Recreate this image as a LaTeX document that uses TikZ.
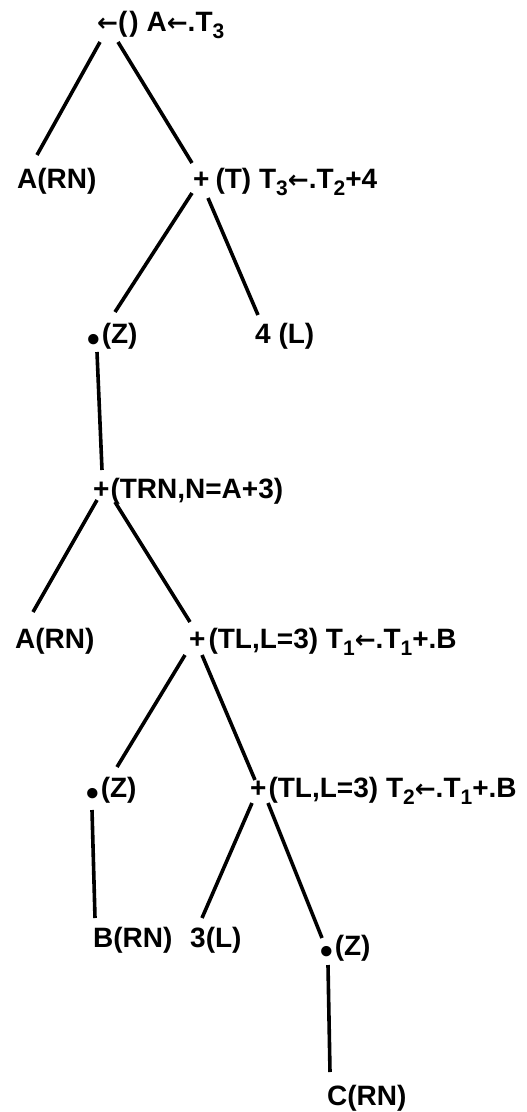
\documentclass[tikz,border=0pt]{standalone}
\usepackage{fontspec}
\setmainfont{Liberation Sans}
\newfontfamily\arrowfont{DejaVu Sans}
% lowered index digit, as in T_3
\newcommand\sbs[1]{\raisebox{-0.28em}{\fontsize{21}{21}\selectfont #1}}
% heavy round dot used as the indirection operator
\newcommand\bigdot{\raisebox{-8.5pt}{\fontsize{36}{36}\selectfont •}\kern2pt}
% assignment arrow
\newcommand\larr{{\arrowfont\bfseries\fontsize{25}{25}\selectfont ←}}
\begin{document}
\begin{tikzpicture}[x=1pt,y=-1pt,
  lbl/.style={inner sep=0pt, anchor=base west, font=\bfseries\fontsize{28}{28}\selectfont},
  edge/.style={line width=3.6pt}]
\useasboundingbox (0,0) rectangle (527,1112);

% tree labels
\node[lbl] (root) at (97,31)   {\larr(\kern2pt) A\larr.T\sbs{3}};
\node[lbl] (a1)   at (17,188)  {A(RN)};
\node[lbl] (p1)   at (193,188) {+\kern6pt(T) T\sbs{3}\larr.T\sbs{2}+4};
\node[lbl] (z1)   at (87,343)  {\bigdot(Z)};
\node[lbl] (l4)   at (255,343) {4 (L)};
\node[lbl] (p2)   at (93,498)  {+\kern1pt(TRN,N=A+3)};
\node[lbl] (a2)   at (15,648)  {A(RN)};
\node[lbl] (p3)   at (189,648) {+\kern3pt(TL,L=3) T\sbs{1}\larr.T\sbs{1}+.B};
\node[lbl] (z2)   at (86,797)  {\bigdot(Z)};
\node[lbl] (p4)   at (250,797) {+\kern2pt(TL,L=3) T\sbs{2}\larr.T\sbs{1}+.B};
\node[lbl] (b)    at (93,947)  {B(RN)};
\node[lbl] (l3)   at (190,947) {3(L)};
\node[lbl] (z3)   at (320,955) {\bigdot(Z)};
\node[lbl] (c)    at (327,1105){C(RN)};

% branches
\draw[edge] ([shift={(3,11)}]root.base west)  -- ([shift={(20,-33)}]a1.base west);
\draw[edge] ([shift={(21,11)}]root.base west) -- ([shift={(-1,-25)}]p1.base west);
\draw[edge] ([shift={(-1,5)}]p1.base west)    -- ([shift={(28,-31)}]z1.base west);
\draw[edge] ([shift={(15,10)}]p1.base west)   -- ([shift={(3,-28)}]l4.base west);
\draw[edge] ([shift={(10,9)}]z1.base west)    -- ([shift={(9,-28)}]p2.base west);
\draw[edge] ([shift={(4,2)}]p2.base west)     -- ([shift={(18,-36)}]a2.base west);
\draw[edge] ([shift={(22,4)}]p2.base west)    -- ([shift={(1,-26)}]p3.base west);
\draw[edge] ([shift={(-4,7)}]p3.base west)    -- ([shift={(31,-30)}]z2.base west);
\draw[edge] ([shift={(13,7)}]p3.base west)    -- ([shift={(5,-17)}]p4.base west);
\draw[edge] ([shift={(6,13)}]z2.base west)    -- ([shift={(2,-29)}]b.base west);
\draw[edge] ([shift={(2,6)}]p4.base west)     -- ([shift={(12,-29)}]l3.base west);
\draw[edge] ([shift={(18,6)}]p4.base west)    -- ([shift={(2,-17)}]z3.base west);
\draw[edge] ([shift={(8,10)}]z3.base west)    -- ([shift={(3,-33)}]c.base west);
\end{tikzpicture}
\end{document}
